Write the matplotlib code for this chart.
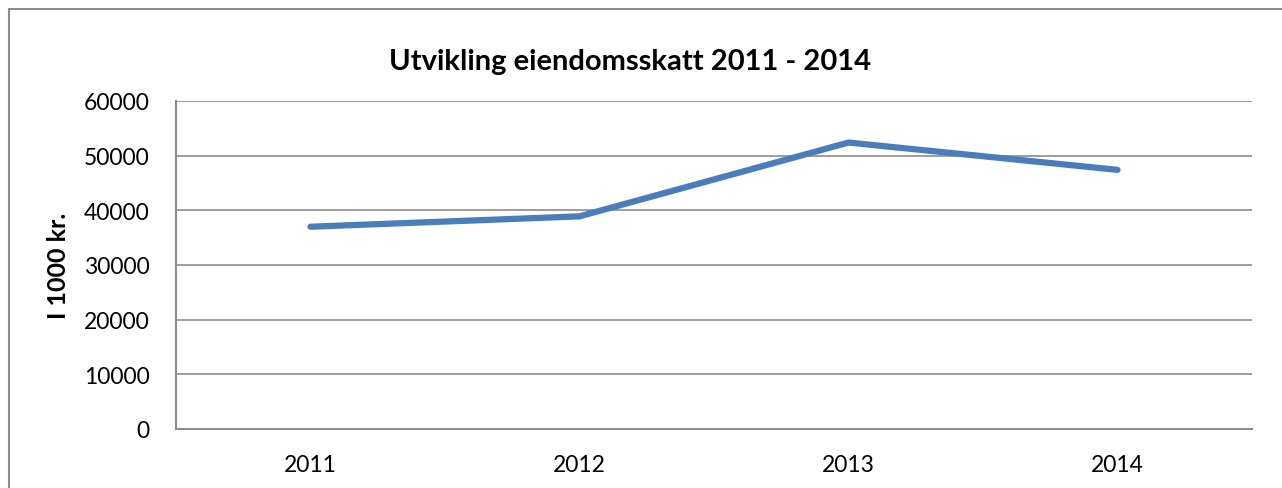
import matplotlib.pyplot as plt
from matplotlib.patches import Rectangle

years = ['2011', '2012', '2013', '2014']
values = [37000, 38900, 52400, 47400]
yticks = [0, 10000, 20000, 30000, 40000, 50000, 60000]

plt.rcParams['font.family'] = ['Lato', 'DejaVu Sans']

fig = plt.figure(figsize=(12.82, 4.89), dpi=100)
# rammen rundt hele diagrammet
fig.patches.append(Rectangle((9 / 1282, -0.1), 1.2, 1 - 10 / 489 + 0.1,
                             transform=fig.transFigure, fill=False,
                             edgecolor='#8c8c8c', linewidth=1.5))

ax = fig.add_axes([176 / 1282, 1 - 430 / 489, (1252 - 176) / 1282, (430 - 102) / 489])
ax.plot(range(len(years)), values, color='#4a7ebb', linewidth=4.5,
        solid_capstyle='round', solid_joinstyle='miter')

ax.set_xlim(-0.5, len(years) - 0.5)
ax.set_ylim(0, 60000)
ax.set_yticks(yticks)
ax.set_yticklabels([str(v) for v in yticks], fontsize=16.5)
ax.set_xticks(range(len(years)))
ax.set_xticklabels(years, fontsize=16.5)
ax.tick_params(axis='y', length=0, pad=19)
ax.tick_params(axis='x', length=0, pad=18)
ax.grid(axis='y', color='#8c8c8c', linewidth=1.2)
ax.set_axisbelow(True)
for s in ['top', 'right']:
    ax.spines[s].set_visible(False)
for s in ['left', 'bottom']:
    ax.spines[s].set_color('#8c8c8c')
    ax.spines[s].set_linewidth(1.5)

ax.set_ylabel('I 1000 kr.', fontsize=18, fontweight='bold')
ax.yaxis.set_label_coords(-(176 - 70) / 1076, 0.5)
fig.text(630 / 1282, 1 - 62 / 489, 'Utvikling eiendomsskatt 2011 - 2014',
         ha='center', va='center', fontsize=21, fontweight='bold')

fig.savefig('out.png', dpi=100)
